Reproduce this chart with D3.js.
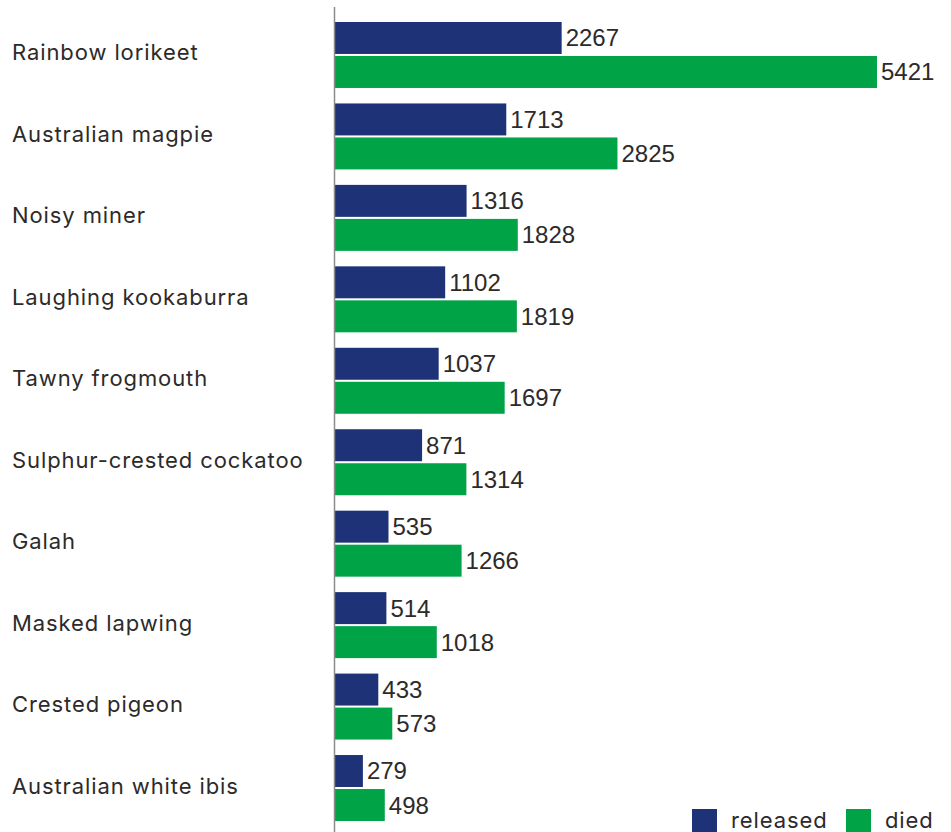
<!DOCTYPE html>
<html>
<head>
<meta charset="utf-8">
<script src="https://cdn.jsdelivr.net/npm/d3@7"></script>
<style>
  html, body { margin: 0; padding: 0; background: #fff; }
  svg { display: block; }
</style>
</head>
<body>
<svg id="chart" width="951" height="832"></svg>
<script>
// Bird species admitted to wildlife care: outcome counts
const species = [
  "Rainbow lorikeet",
  "Australian magpie",
  "Noisy miner",
  "Laughing kookaburra",
  "Tawny frogmouth",
  "Sulphur-crested cockatoo",
  "Galah",
  "Masked lapwing",
  "Crested pigeon",
  "Australian white ibis"
];
const released = [2267, 1713, 1316, 1102, 1037, 871, 535, 514, 433, 279];
const died     = [5421, 2825, 1828, 1819, 1697, 1314, 1266, 1018, 573, 498];
const seriesNames = ["released", "died"];
const seriesColors = ["#1d3277", "#00a346"];

const svg = d3.select("#chart");
const W = 951, H = 832;
const x0 = 335;

const x = d3.scaleLinear().domain([0, d3.max(died)]).range([x0, 877]);
const y = d3.scaleBand().domain(species).range([22, 821]).paddingInner(0.19).paddingOuter(0);
const sub = d3.scaleBand().domain(seriesNames).range([0, y.bandwidth()]).paddingInner(0.06);

const rows = species.map((s, i) => ({ name: s, values: [released[i], died[i]] }));

const labelFont = "Inter, 'Noto Sans', sans-serif";
const valueFont = "'Liberation Sans', Arial, sans-serif";
const textColor = "#2d2a2a";

// Category labels
svg.append("g")
  .selectAll("text")
  .data(rows)
  .join("text")
  .attr("x", 12)
  .attr("y", d => y(d.name) + y.bandwidth() / 2 + 5.5)
  .attr("font-family", labelFont)
  .attr("font-size", 22)
  .attr("letter-spacing", 0.9)
  .attr("fill", textColor)
  .text(d => d.name);

// Bars and value labels
const groups = svg.append("g")
  .selectAll("g")
  .data(rows)
  .join("g")
  .attr("transform", d => `translate(0,${y(d.name)})`);

const cells = groups.selectAll("g")
  .data(d => d.values.map((v, j) => ({ key: seriesNames[j], value: v, color: seriesColors[j] })))
  .join("g");

cells.append("rect")
  .attr("x", x(0))
  .attr("y", d => sub(d.key))
  .attr("width", d => x(d.value) - x(0))
  .attr("height", sub.bandwidth())
  .attr("fill", d => d.color);

cells.append("text")
  .attr("x", d => x(d.value) + 4)
  .attr("y", d => sub(d.key) + sub.bandwidth() / 2 + 8.5)
  .attr("font-family", valueFont)
  .attr("font-size", 24)
  .attr("fill", textColor)
  .text(d => d.value);

// Vertical baseline axis
svg.append("line")
  .attr("x1", x0 - 0.5).attr("x2", x0 - 0.5)
  .attr("y1", 7).attr("y2", H)
  .attr("stroke", "#8c8c8c")
  .attr("stroke-width", 1.5);

// Legend
const legend = svg.append("g").attr("transform", "translate(692,809)");
const legendX = [0, 154];
seriesNames.forEach((name, i) => {
  const g = legend.append("g").attr("transform", `translate(${legendX[i]},0)`);
  g.append("rect").attr("width", 25).attr("height", 25).attr("fill", seriesColors[i]);
  g.append("text")
    .attr("x", 39)
    .attr("y", 19)
    .attr("font-family", labelFont)
    .attr("font-size", 22)
    .attr("letter-spacing", 0.9)
    .attr("fill", textColor)
    .text(name);
});
</script>
</body>
</html>
